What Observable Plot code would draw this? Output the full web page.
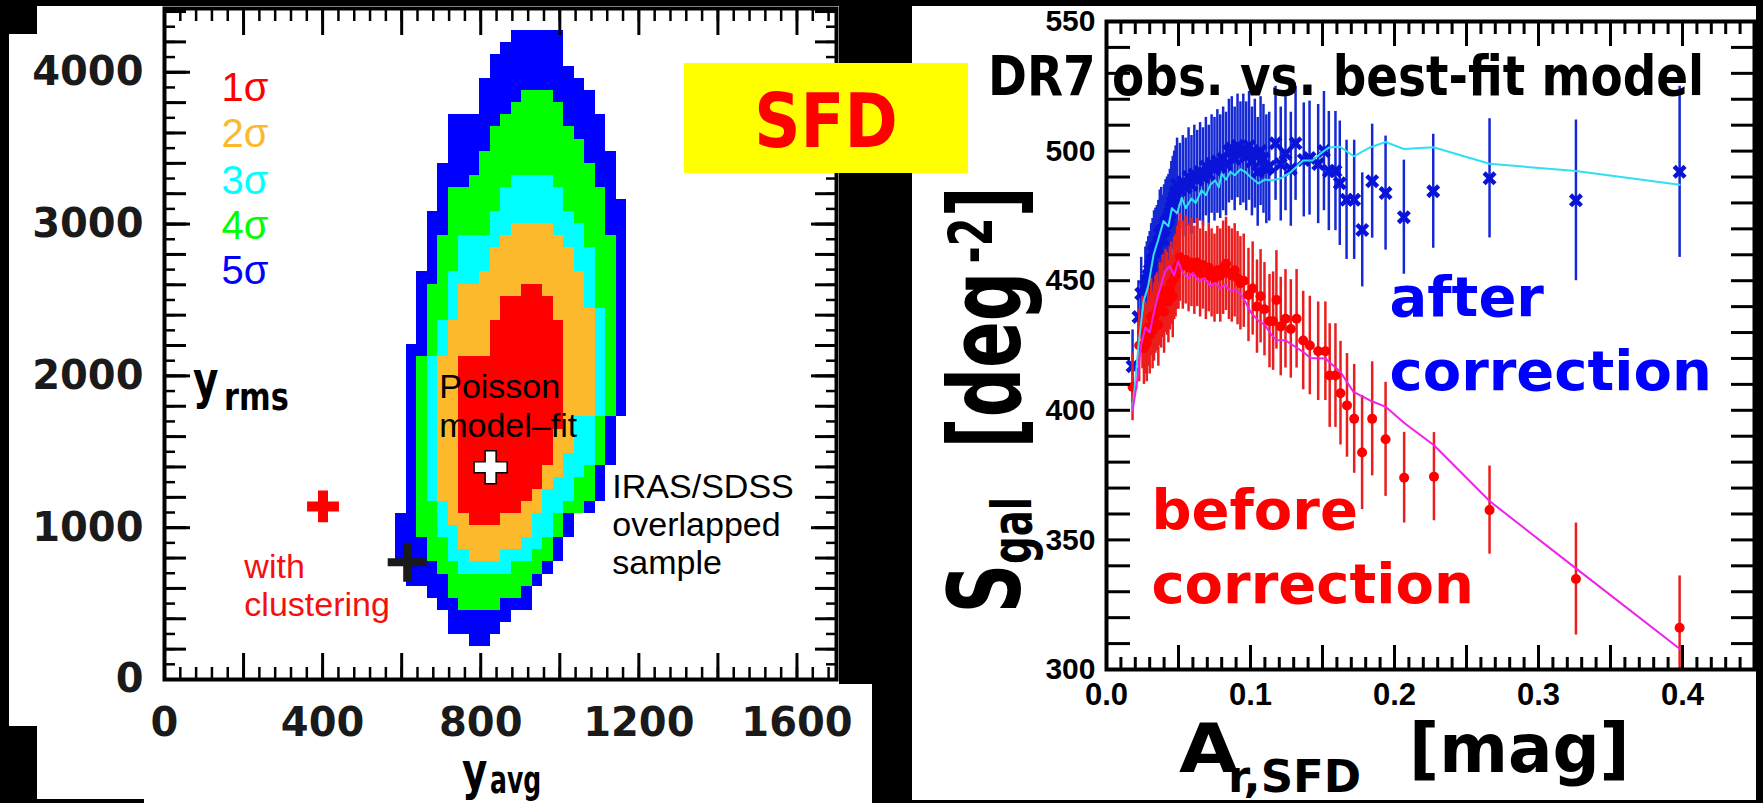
<!DOCTYPE html>
<html>
<head>
<meta charset="utf-8">
<script src="https://cdn.jsdelivr.net/npm/d3@7"></script>
<script src="https://cdn.jsdelivr.net/npm/@observablehq/plot@0.6"></script>
<style>
  html, body { margin:0; padding:0; background:#000; }
  #page { position:relative; width:1763px; height:803px; overflow:hidden; background:#000; }
  .white { position:absolute; background:#fff; }
  .chart { position:absolute; top:0; height:803px; }
  .lbl { position:absolute; white-space:nowrap; line-height:1; font-family:"DejaVu Sans", sans-serif; font-weight:bold; color:#000; transform-origin:0 0; z-index:3; }
  #sfd { position:absolute; left:684px; top:63px; width:284px; height:110px; background:#ffff00; z-index:3; }
  #sfd span { position:absolute; left:0; width:100%; text-align:center; top:21px; font-family:"DejaVu Sans", sans-serif; font-weight:bold; font-size:74px; line-height:1; color:#ff0000; transform:scaleX(0.867); transform-origin:50% 0; }
</style>
</head>
<body>
<div id="page">
  <div class="white" style="left:9px;top:34px;width:830px;height:692px"></div>
  <div class="white" style="left:37px;top:6px;width:802px;height:797px"></div>
  <div class="white" style="left:37px;top:684px;width:835px;height:119px"></div>
  <div class="white" style="left:912px;top:6px;width:844px;height:794px"></div>
  <div class="white" style="left:37px;top:799px;width:107px;height:4px;background:#000"></div>
  <div id="left" class="chart" style="left:0;width:880px;z-index:1"></div>
  <div id="right" class="chart" style="left:880px;width:883px;z-index:1"></div>
  <div id="sfd"><span>SFD</span></div>
</div>
<script>
// ================= LEFT PANEL DATA (y_rms vs y_avg confidence map) =================
const colWidth = 1700 / 64;        // width of one y_avg bin
const rowStart = 217;              // y_rms of lowest bin edge
const rowHeight = 79.6;            // height of one y_rms bin
const rowCount = 51;               // rows counted from the top (row 0 = top)
// [row from top, first column, end column]
const sigma5Rows = [[0,33,38],[1,32,38],[2,31,38],[3,31,39],[4,30,40],[5,30,41],[6,30,41],[7,27,42],[8,27,42],[9,27,42],[10,27,43],[11,26,43],[12,26,43],[13,26,43],[14,26,44],[15,25,44],[16,25,44],[17,25,44],[18,25,44],[19,25,44],[20,24,44],[21,24,44],[22,24,44],[23,24,44],[24,24,44],[25,24,44],[26,23,44],[27,23,44],[28,23,44],[29,23,44],[30,23,44],[31,23,44],[32,23,43],[33,23,43],[34,23,43],[35,23,43],[36,23,42],[37,23,42],[38,23,42],[39,23,41],[40,22,39],[41,22,39],[42,22,38],[43,22,38],[44,23,37],[45,23,36],[46,25,35],[47,26,35],[48,27,33],[49,27,32],[50,29,31]];
const sigma4Rows = [[5,34,37],[6,33,38],[7,32,38],[8,31,39],[9,31,40],[10,30,40],[11,30,41],[12,29,41],[13,27,42],[14,27,42],[15,27,42],[16,27,42],[17,26,43],[18,26,43],[19,26,43],[20,26,43],[21,25,43],[22,25,43],[23,25,43],[24,25,43],[25,25,43],[26,25,43],[27,24,43],[28,24,43],[29,24,43],[30,24,43],[31,24,43],[32,24,42],[33,24,42],[34,24,42],[35,24,42],[36,24,41],[37,24,41],[38,24,41],[39,24,40],[40,24,38],[41,24,38],[42,25,37],[43,25,37],[44,26,36],[45,27,35],[46,27,34],[47,28,32]];
const sigma3Rows = [[12,33,37],[13,32,38],[14,32,38],[15,31,39],[16,31,40],[17,28,40],[18,28,41],[19,28,41],[20,27,41],[21,27,41],[22,27,41],[23,27,42],[24,26,42],[25,26,42],[26,26,42],[27,25,42],[28,25,42],[29,25,42],[30,25,42],[31,25,42],[32,25,41],[33,25,41],[34,25,41],[35,25,41],[36,25,40],[37,25,39],[38,25,39],[39,26,38],[40,26,37],[41,26,37],[42,27,36],[43,27,35],[44,28,33]];
const sigma2Rows = [[16,33,37],[17,32,38],[18,31,39],[19,31,39],[20,30,40],[21,28,40],[22,28,40],[23,28,41],[24,27,41],[25,27,41],[26,27,41],[27,26,41],[28,26,41],[29,26,41],[30,26,41],[31,26,41],[32,26,39],[33,26,39],[34,26,39],[35,26,38],[36,26,38],[37,26,37],[38,26,36],[39,27,36],[40,27,35],[41,28,35],[42,28,34],[43,29,32]];
const sigma1Rows = [[21,34,36],[22,32,37],[23,32,37],[24,31,38],[25,31,38],[26,31,38],[27,28,38],[28,28,38],[29,28,38],[30,28,38],[31,28,38],[32,28,38],[33,28,37],[34,28,37],[35,28,37],[36,28,36],[37,28,36],[38,28,35],[39,28,34],[40,29,32]];

const sigmaLabels = ["1σ", "2σ", "3σ", "4σ", "5σ"];
const sigmaColors = ["#ff0000", "#fdb92c", "#00ffff", "#00ff00", "#0000ff"];
const sigmaLabelY = [3897, 3590, 3284, 2988, 2691];
const sigmaLabelX = 144;

// markers: [y_avg, y_rms]
const clusteringPoint = [401, 1140];
const irasPoint = [614, 773];
const poissonPoint = [825, 1398];

const leftNotes = [
  {text: "Poisson\nmodel–fit", x: 695, y: 1806, color: "#000000"},
  {text: "IRAS/SDSS\noverlapped\nsample", x: 1133, y: 1027, color: "#000000"},
  {text: "with\nclustering", x: 202, y: 625, color: "#f51010"}
];
const leftXLabels = [0, 400, 800, 1200, 1600];
const leftYLabels = [0, 1000, 2000, 3000, 4000];

// ================= RIGHT PANEL DATA (S_gal vs A_r,SFD) =================
// [A_r, S_gal, error]
const afterPoints = [[0.0181,417,14],[0.0222,436,14],[0.0241,445,14],[0.027,448,15],[0.028,450,15],[0.029,452,15],[0.030,454,15],[0.031,456,16],[0.032,458,16],[0.033,461,16],[0.034,462,16],[0.035,463,16],[0.036,465,16],[0.037,468,17],[0.038,469,17],[0.039,466,17],[0.040,470,17],[0.041,472,17],[0.042,473,17],[0.043,474,17],[0.044,476,17],[0.045,478,18],[0.046,480,18],[0.047,482,18],[0.048,484,18],[0.049,487,18],[0.051,485,18],[0.053,488,18],[0.055,486,19],[0.057,490,19],[0.059,487,19],[0.061,491,19],[0.063,489,19],[0.065,492,19],[0.067,490,19],[0.069,494,19],[0.071,491,19],[0.073,495,19],[0.075,493,20],[0.077,496,20],[0.079,494,20],[0.081,497,20],[0.083,495,20],[0.085,500,20],[0.087,501,20],[0.089,497,20],[0.091,502,20],[0.093,499,20],[0.095,501,21],[0.097,498,21],[0.099,502,21],[0.101,496,21],[0.103,499,21],[0.105,492,21],[0.107,500,21],[0.109,497,21],[0.111,493,21],[0.113,494,21],[0.1174,503,22],[0.121,495,22],[0.1243,499,22],[0.128,493,22],[0.1313,503,22],[0.137,496.6,22],[0.141,497.3,22],[0.147,495,23],[0.151,500,23],[0.1544,492.3,23],[0.159,492.3,23],[0.162,487.6,24],[0.1667,481.2,23],[0.172,481.2,23],[0.1776,469.6,22],[0.1845,488.4,22],[0.1938,483.8,22],[0.2065,474.5,22],[0.2269,484.5,22],[0.266,489.5,23],[0.326,481,31],[0.398,492,33]];
const beforePoints = [[0.0181,409,13],[0.0227,425,14],[0.025,430,14],[0.026,424,14],[0.027,428,14],[0.028,426,15],[0.029,432,15],[0.030,429,15],[0.031,436,15],[0.032,431,15],[0.033,434,15],[0.034,437,15],[0.035,438,15],[0.036,433,16],[0.037,441,16],[0.038,440,16],[0.039,444,16],[0.040,438,16],[0.041,446,16],[0.042,445,16],[0.043,442,16],[0.044,447,16],[0.045,449,16],[0.046,444,16],[0.047,451,16],[0.048,452,16],[0.049,455,16],[0.050,456,17],[0.051,459,17],[0.053,456,17],[0.055,458,17],[0.057,455,17],[0.059,457,17],[0.061,454,17],[0.063,457,17],[0.065,453,17],[0.067,456,17],[0.069,452,17],[0.071,455,17],[0.073,453,17],[0.075,451,17],[0.077,454,17],[0.079,452,18],[0.081,455,18],[0.083,456.5,18],[0.085,453,18],[0.087,452,18],[0.089,454,18],[0.091,451,18],[0.093,449,18],[0.0953,450,18],[0.0986,444.5,18],[0.1015,447,18],[0.1045,440,18],[0.107,444,18],[0.1097,439,18],[0.1132,434.4,18],[0.1157,434.4,19],[0.118,442.6,19],[0.121,432.3,19],[0.1243,435.3,19],[0.128,431.4,19],[0.132,435.3,19],[0.1366,426.9,19],[0.1412,425,19],[0.147,422.8,19],[0.152,422.8,19],[0.155,413.4,20],[0.159,413.4,20],[0.1625,406.6,20],[0.167,401.9,20],[0.172,396.7,21],[0.1775,383.7,22],[0.1845,396.7,22],[0.1938,388.8,22],[0.2067,374,17.5],[0.2274,374.4,17],[0.266,361.5,17],[0.326,334.9,21.6],[0.398,316.1,20]];
// best-fit model curves: [A_r, S_gal]
const modelAfter = [[0.0181,400],[0.0222,425],[0.0257,442],[0.029,448],[0.0327,460],[0.036,466],[0.0396,473],[0.043,471],[0.0454,478],[0.049,476],[0.0523,482],[0.055,478],[0.059,481.7],[0.062,480],[0.066,484.9],[0.069,483],[0.072,487],[0.0755,488.7],[0.078,486],[0.080,491.3],[0.083,489],[0.086,492],[0.089,490.7],[0.093,493],[0.0963,492],[0.100,490],[0.1055,487.5],[0.110,489],[0.115,488.7],[0.121,489.5],[0.128,491.9],[0.1366,496.4],[0.143,496.4],[0.149,499.2],[0.1544,501.4],[0.162,501.7],[0.1718,498],[0.1833,501.5],[0.1938,503.5],[0.2065,500.8],[0.227,501.5],[0.266,495.1],[0.326,492.3],[0.398,487]];
const modelBefore = [[0.0181,400],[0.021,410],[0.024,425],[0.027,432],[0.030,430],[0.033,438],[0.036,444.7],[0.0407,453.6],[0.044,455.6],[0.047,452],[0.0497,457.5],[0.053,453],[0.0569,451.1],[0.060,453],[0.064,449.8],[0.068,451],[0.072,448],[0.0755,449.2],[0.079,447],[0.0824,448.5],[0.086,446],[0.0893,446.6],[0.093,445],[0.0963,442],[0.100,438],[0.1056,434.4],[0.110,433],[0.114,429.5],[0.118,427],[0.1243,427],[0.1366,422.5],[0.1417,420.2],[0.152,420],[0.1625,414.8],[0.1715,407.1],[0.183,403.8],[0.194,401.3],[0.207,395],[0.2274,386.5],[0.266,365],[0.326,339],[0.398,308]];

const rightNotes = [
  {text: "after\ncorrection", x: 0.1965, y: 431.2, color: "#0000ff"},
  {text: "before\ncorrection", x: 0.0312, y: 349.2, color: "#ff0000"}
];
const rightXLabels = [0, 0.1, 0.2, 0.3, 0.4];
const rightYLabels = [300, 350, 400, 450, 500, 550];

// ================= helpers =================
function innerTicks(dir, values, size, sw) {
  const common = {tickSize: size, tickFormat: () => "", label: null, strokeWidth: sw, stroke: "#000"};
  if (dir === "bottom") return Plot.axisX(values, {...common, anchor: "bottom", dy: -size});
  if (dir === "top") return Plot.axisX(values, {...common, anchor: "top", dy: size});
  if (dir === "left") return Plot.axisY(values, {...common, anchor: "left", dx: size});
  return Plot.axisY(values, {...common, anchor: "right", dx: -size});
}
function allSides(xVals, xSize, yVals, ySize, sw) {
  return [
    ...(xVals ? [innerTicks("bottom", xVals, xSize, sw), innerTicks("top", xVals, xSize, sw)] : []),
    ...(yVals ? [innerTicks("left", yVals, ySize, sw), innerTicks("right", yVals, ySize, sw)] : [])
  ];
}

// ================= LEFT CHART =================
const levels = [
  ["5σ", sigma5Rows], ["4σ", sigma4Rows], ["3σ", sigma3Rows], ["2σ", sigma2Rows], ["1σ", sigma1Rows]
];
const cells = [];
for (const [name, rows] of levels) {
  const color = sigmaColors[sigmaLabels.indexOf(name)];
  for (const [t, c0, c1] of rows) {
    const y1 = rowStart + (rowCount - 1 - t) * rowHeight;
    cells.push({color, x1: c0 * colWidth, x2: c1 * colWidth, y1, y2: y1 + rowHeight});
  }
}

const leftChart = Plot.plot({
  width: 880, height: 803,
  marginLeft: 164, marginRight: 44, marginTop: 8, marginBottom: 124,
  x: {domain: [0, 1700]},
  y: {domain: [0, 4420]},
  color: {type: "identity"},
  style: {background: "none", overflow: "visible", color: "#000"},
  marks: [
    Plot.rect(cells, {x1: "x1", x2: "x2", y1: "y1", y2: "y2", fill: "color", shapeRendering: "crispEdges"}),
    Plot.dot([clusteringPoint], {x: d => d[0], y: d => d[1], symbol: "plus", r: 10.3, stroke: "#ff0000", strokeWidth: 10}),
    Plot.dot([irasPoint], {x: d => d[0], y: d => d[1], symbol: "plus", r: 12.6, stroke: "#1a1a1a", strokeWidth: 8}),
    Plot.dot([poissonPoint], {x: d => d[0], y: d => d[1], symbol: "cross", r: 13.9, fill: "#ffffff", stroke: "#000", strokeWidth: 1.5}),
    Plot.text(sigmaLabels, {x: () => sigmaLabelX, y: (d, i) => sigmaLabelY[i], text: d => d, fill: (d, i) => sigmaColors[i],
      textAnchor: "start", lineAnchor: "middle", fontSize: 40, fontFamily: "Liberation Sans"}),
    Plot.text(leftNotes, {x: "x", y: "y", text: "text", fill: "color", textAnchor: "start", lineAnchor: "middle",
      lineHeight: 1.12, fontSize: 34, fontFamily: "Liberation Sans"}),
    Plot.frame({stroke: "#000", strokeWidth: 4}),
    ...allSides(d3.range(0, 1701, 40), 12, d3.range(0, 4401, 100), 11, 2.5),
    ...allSides(d3.range(0, 1601, 200), 26, d3.range(0, 4401, 200), 22, 3),
    ...allSides(null, 0, d3.range(0, 4001, 1000), 26, 3),
    Plot.axisX(leftXLabels, {anchor: "bottom", tickSize: 0, tickPadding: 28, tickFormat: d => String(d), label: null,
      fontSize: 40, fontWeight: "bold", fontFamily: "DejaVu Sans", fill: "#1a1a1a"}),
    Plot.axisY(leftYLabels, {anchor: "left", tickSize: 0, tickPadding: 21, tickFormat: d => String(d), label: null,
      fontSize: 40, fontWeight: "bold", fontFamily: "DejaVu Sans", fill: "#1a1a1a"})
  ]
});
document.getElementById("left").append(leftChart);

// ================= RIGHT CHART =================
const after = afterPoints.map(([x, y, e]) => ({x, y, e}));
const before = beforePoints.map(([x, y, e]) => ({x, y, e}));

const rightChart = Plot.plot({
  width: 883, height: 803,
  marginLeft: 226, marginRight: 9, marginTop: 21, marginBottom: 134,
  x: {domain: [0, 0.45]},
  y: {domain: [300, 550]},
  color: {type: "identity"},
  style: {background: "none", overflow: "visible", color: "#000"},
  marks: [
    Plot.ruleX(after, {x: "x", y1: d => d.y - d.e, y2: d => d.y + d.e, stroke: "#1428d4", strokeWidth: 2.5, clip: true}),
    Plot.dot(after, {x: "x", y: "y", symbol: "times", r: 5, stroke: "#0a14d8", strokeWidth: 4.5}),
    Plot.ruleX(before, {x: "x", y1: d => d.y - d.e, y2: d => d.y + d.e, stroke: "#ea1e1e", strokeWidth: 2.5, clip: true}),
    Plot.dot(before, {x: "x", y: "y", r: 5, fill: "#ff0000"}),
    Plot.line(modelAfter, {x: d => d[0], y: d => d[1], stroke: "#2ee0f2", strokeWidth: 2}),
    Plot.line(modelBefore, {x: d => d[0], y: d => d[1], stroke: "#f022e8", strokeWidth: 2}),
    Plot.text(rightNotes, {x: "x", y: "y", text: "text", fill: "color", textAnchor: "start", lineAnchor: "middle",
      lineHeight: 1.325, fontSize: 56, fontWeight: "bold", fontFamily: "DejaVu Sans"}),
    Plot.frame({stroke: "#000", strokeWidth: 4}),
    ...allSides(d3.range(0, 46).map(i => i / 100), 12, d3.range(300, 551, 10), 24, 3),
    ...allSides(d3.range(0, 10).map(i => i * 0.05), 24, null, 0, 3),
    Plot.axisX(rightXLabels, {anchor: "bottom", tickSize: 0, tickPadding: 13, tickFormat: d3.format(".1f"), label: null,
      fontSize: 31, fontWeight: "bold", fontFamily: "Liberation Sans", fill: "#000"}),
    Plot.axisY(rightYLabels, {anchor: "left", tickSize: 0, tickPadding: 11, tickFormat: d => String(d), label: null,
      fontSize: 30, fontWeight: "bold", fontFamily: "Liberation Sans", fill: "#000"})
  ]
});
document.getElementById("right").append(rightChart);

// ================= axis titles and headings (HTML text) =================
const page = document.getElementById("page");
function addLabel(html, left, baseline, size, sx = 1, color = "#000", family = '"DejaVu Sans", sans-serif') {
  const el = document.createElement("div");
  el.className = "lbl";
  el.innerHTML = html;
  el.style.left = left + "px";
  el.style.top = (baseline - 0.846 * size) + "px";
  el.style.fontSize = size + "px";
  el.style.color = color;
  el.style.fontFamily = family;
  if (sx !== 1) el.style.transform = `scaleX(${sx})`;
  page.append(el);
  return el;
}
// left panel axis titles
addLabel("y", 193, 398, 52, 0.75);
addLabel("rms", 224, 410, 38, 0.8);
addLabel("y", 462, 789, 52, 0.75);
addLabel("avg", 490, 793, 38, 0.66);
// right panel x title
addLabel("A", 1179, 773, 68, 1.12);
addLabel("r,SFD", 1228, 792, 45, 1);
addLabel("[mag]", 1409, 773, 68, 0.97);
// right panel heading
addLabel("DR7 obs. vs. best-fit model", 988, 95, 56, 0.838);
// right panel y title (rotated)
const yt = document.createElement("div");
yt.className = "lbl";
yt.style.left = "1021px";
yt.style.top = (614 - 84.6) + "px";
yt.style.fontSize = "100px";
yt.style.transformOrigin = "0 84.6px";
yt.style.transform = "rotate(-90deg) scaleX(0.69)";
yt.innerHTML = 'S<span style="font-size:56px;position:relative;top:11px">gal</span>&nbsp;&nbsp;[deg<span style="font-size:60px;position:relative;top:-28px">&#8239;-2</span>]';
page.append(yt);
</script>
</body>
</html>
